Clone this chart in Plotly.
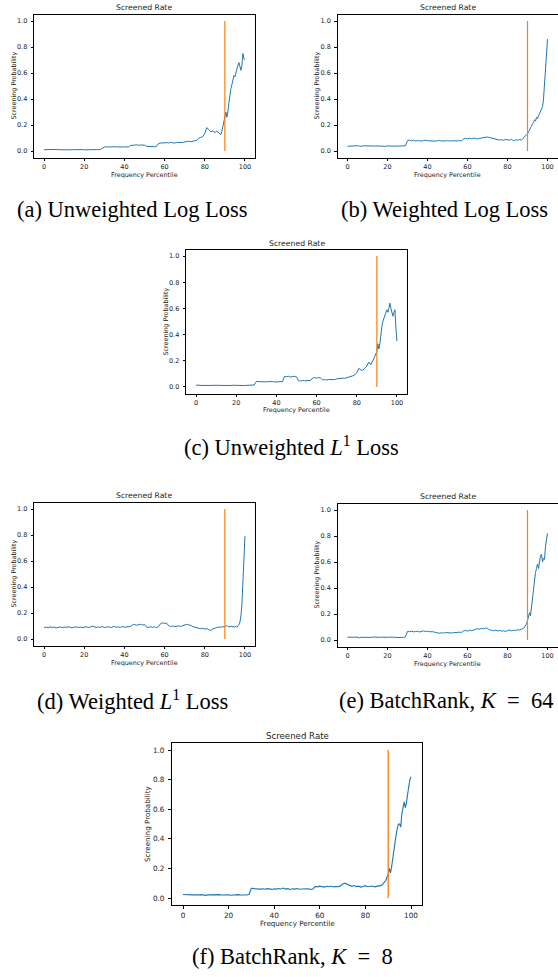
import plotly.graph_objects as go

# Frequency percentile grid: whole percentiles up to 87, then half steps to 100
pct = list(range(0, 88)) + [88 + 0.5 * i for i in range(25)]

# Screening probability per percentile, one list per training objective
unweighted_log = [
    0.010, 0.011, 0.009, 0.010, 0.011, 0.010, 0.012, 0.010, 0.009, 0.011,
    0.010, 0.011, 0.010, 0.009, 0.010, 0.011, 0.010, 0.012, 0.010, 0.011,
    0.009, 0.010, 0.011, 0.010, 0.009, 0.010, 0.011, 0.010, 0.011,
    0.020,
    0.030, 0.032, 0.029, 0.031, 0.033, 0.030, 0.032, 0.031, 0.029, 0.031, 0.032, 0.030, 0.031,
    0.042, 0.046, 0.045, 0.048, 0.044, 0.046, 0.043, 0.045,
    0.036, 0.034, 0.037, 0.035, 0.033, 0.036,
    0.058, 0.061, 0.063, 0.060, 0.064, 0.062, 0.066, 0.063, 0.061, 0.065, 0.064, 0.067, 0.066,
    0.070, 0.072, 0.075, 0.071, 0.077, 0.079, 0.082,
    0.098, 0.105, 0.110,
    0.135, 0.180, 0.165, 0.148, 0.155, 0.142, 0.152, 0.135,
    0.125, 0.150, 0.190, 0.210, 0.240, 0.300, 0.260, 0.300, 0.370, 0.440,
    0.480, 0.510, 0.550, 0.580, 0.570, 0.610, 0.630, 0.660, 0.680, 0.640,
    0.620, 0.660, 0.750, 0.710, 0.700,
]

weighted_log = [
    0.036, 0.038, 0.040, 0.037, 0.039, 0.041, 0.038, 0.036, 0.040, 0.039,
    0.037, 0.038, 0.040, 0.036, 0.038, 0.039, 0.037, 0.040, 0.038, 0.036,
    0.039, 0.041, 0.038, 0.037, 0.040, 0.039, 0.038, 0.037, 0.039,
    0.040,
    0.080, 0.084, 0.079, 0.082, 0.077, 0.081, 0.078, 0.076, 0.080, 0.083,
    0.079, 0.077, 0.080, 0.078, 0.076, 0.079, 0.081, 0.077, 0.075, 0.078,
    0.080, 0.076, 0.079, 0.077, 0.075, 0.078, 0.080, 0.077,
    0.094, 0.097, 0.093, 0.098, 0.095, 0.099, 0.096, 0.093, 0.097, 0.100,
    0.105, 0.110, 0.108, 0.104, 0.100,
    0.095, 0.092, 0.088, 0.084, 0.087, 0.082, 0.089, 0.085, 0.083, 0.090,
    0.078, 0.086, 0.082, 0.088, 0.084,
    0.100, 0.115, 0.120, 0.125, 0.130, 0.150, 0.160, 0.180, 0.190, 0.210,
    0.220, 0.240, 0.230, 0.260, 0.250, 0.270, 0.290, 0.310, 0.330, 0.340,
    0.400, 0.520, 0.680, 0.800, 0.860,
]

unweighted_l1 = [
    0.014, 0.012, 0.010, 0.013, 0.011, 0.012, 0.014, 0.011, 0.012, 0.010,
    0.013, 0.012, 0.011, 0.013, 0.012, 0.010, 0.012, 0.011, 0.013, 0.012,
    0.011, 0.012, 0.010, 0.013, 0.011, 0.012, 0.013, 0.011, 0.012,
    0.015,
    0.042, 0.040, 0.038, 0.041, 0.039, 0.040, 0.042, 0.039, 0.041, 0.038, 0.040, 0.042, 0.039, 0.041,
    0.080, 0.078, 0.082, 0.076, 0.079, 0.081, 0.077,
    0.048, 0.045, 0.050, 0.047, 0.049, 0.046, 0.050,
    0.068, 0.071, 0.067, 0.072, 0.069,
    0.054, 0.056, 0.053, 0.057, 0.055, 0.058, 0.056,
    0.062, 0.065, 0.063, 0.067, 0.066, 0.070,
    0.076, 0.080, 0.085, 0.092,
    0.110, 0.142, 0.130, 0.128, 0.148, 0.160, 0.190, 0.170,
    0.200, 0.215, 0.230, 0.245, 0.270, 0.330, 0.290, 0.330, 0.420, 0.460,
    0.500, 0.530, 0.560, 0.570, 0.590, 0.570, 0.600, 0.640, 0.600, 0.560,
    0.540, 0.570, 0.590, 0.450, 0.350,
]

weighted_l1 = [
    0.088, 0.092, 0.086, 0.094, 0.089, 0.091, 0.085, 0.090, 0.093, 0.087,
    0.092, 0.089, 0.094, 0.090, 0.086, 0.091, 0.093, 0.088, 0.092, 0.087,
    0.090, 0.094, 0.089, 0.091, 0.100, 0.092, 0.088, 0.093, 0.090, 0.095,
    0.089, 0.091, 0.094, 0.088, 0.092, 0.096, 0.090, 0.093, 0.089, 0.095,
    0.091, 0.094, 0.098, 0.096,
    0.108, 0.112, 0.106, 0.110, 0.113, 0.107, 0.111,
    0.092, 0.089, 0.094, 0.090, 0.093, 0.088, 0.095,
    0.118, 0.124, 0.120, 0.122,
    0.102, 0.096, 0.100, 0.094, 0.098, 0.101, 0.097, 0.103,
    0.110, 0.113, 0.108, 0.105,
    0.096, 0.090, 0.085, 0.082, 0.079, 0.083, 0.076, 0.080, 0.072, 0.065,
    0.078, 0.085, 0.088, 0.092,
    0.090, 0.095, 0.092, 0.098, 0.094, 0.100, 0.105, 0.096, 0.092, 0.098,
    0.094, 0.100, 0.090, 0.096, 0.092, 0.098, 0.090, 0.100, 0.110, 0.130,
    0.180, 0.270, 0.420, 0.600, 0.790,
]

batchrank_k64 = [
    0.022, 0.020, 0.019, 0.021, 0.023, 0.020, 0.018, 0.021, 0.020, 0.022,
    0.019, 0.021, 0.020, 0.023, 0.021, 0.019, 0.020, 0.022, 0.021, 0.018,
    0.020, 0.022, 0.019, 0.021, 0.020, 0.018, 0.020, 0.019, 0.020,
    0.025,
    0.066, 0.064, 0.068, 0.063, 0.065, 0.067, 0.062, 0.066, 0.070, 0.065, 0.068, 0.064, 0.066, 0.063,
    0.058, 0.055, 0.052, 0.056, 0.053, 0.057, 0.055, 0.058, 0.054, 0.056, 0.059, 0.057, 0.060, 0.058,
    0.070, 0.073, 0.068, 0.075, 0.072, 0.076,
    0.084, 0.088, 0.083, 0.090, 0.086, 0.092, 0.089,
    0.078, 0.075, 0.072, 0.076, 0.070, 0.073, 0.068, 0.071, 0.066, 0.072,
    0.078, 0.070, 0.075, 0.073, 0.079, 0.076, 0.082,
    0.090, 0.100, 0.110, 0.125, 0.150, 0.180, 0.210, 0.185, 0.260, 0.320,
    0.400, 0.460, 0.520, 0.550, 0.585, 0.550, 0.610, 0.650, 0.660, 0.600,
    0.630, 0.620, 0.720, 0.780, 0.820,
]

batchrank_k8 = [
    0.024, 0.022, 0.020, 0.023, 0.021, 0.022, 0.019, 0.021, 0.023, 0.020,
    0.018, 0.021, 0.022, 0.020, 0.019, 0.021, 0.023, 0.020, 0.022, 0.024,
    0.021, 0.019, 0.022, 0.020, 0.023, 0.021, 0.019, 0.022, 0.020,
    0.025,
    0.066, 0.063, 0.061, 0.064, 0.060, 0.062, 0.059, 0.063, 0.061, 0.058,
    0.062, 0.060, 0.064, 0.061, 0.067, 0.060, 0.063, 0.058, 0.062, 0.060,
    0.064, 0.059, 0.061, 0.063, 0.060, 0.062, 0.058, 0.061,
    0.078, 0.075, 0.080, 0.077, 0.074, 0.079, 0.076, 0.081, 0.075, 0.078, 0.076, 0.080,
    0.095, 0.100, 0.092,
    0.082, 0.079, 0.084, 0.077, 0.080, 0.074, 0.078, 0.083, 0.076, 0.079,
    0.081, 0.075, 0.078, 0.082, 0.085,
    0.100, 0.110, 0.120, 0.140, 0.160, 0.200, 0.170, 0.210, 0.270, 0.330,
    0.380, 0.430, 0.470, 0.500, 0.500, 0.480, 0.570, 0.620, 0.650, 0.610,
    0.640, 0.700, 0.760, 0.800, 0.820,
]

# Frequency-percentile cutoff drawn as a vertical marker
threshold_x = [90, 90]
threshold_y = [0.0, 1.0]

x_ticks = [0, 20, 40, 60, 80, 100]
y_ticks = [0.0, 0.2, 0.4, 0.6, 0.8, 1.0]

panel_title = "Screened Rate"
x_label = "Frequency Percentile"
y_label = "Screening Probability"

NB = "\u00a0"
captions = [
    "(a) Unweighted Log Loss",
    "(b) Weighted Log Loss",
    "(c) Unweighted <i>L</i><sup>1</sup> Loss",
    "(d) Weighted <i>L</i><sup>1</sup> Loss",
    "(e) BatchRank, <i>K</i>" + NB + " =" + NB + " 64",
    "(f) BatchRank, <i>K</i>" + NB + " =" + NB + " 8",
]
series = [unweighted_log, weighted_log, unweighted_l1,
          weighted_l1, batchrank_k64, batchrank_k8]

# ---- page geometry (pixels) ----
W, H = 558, 977
# plot boxes: left, right, top, bottom
boxes = [
    (34.0, 255.0, 14.5, 157.5),
    (337.5, 557.5, 14.5, 157.5),
    (186.0, 407.0, 249.5, 393.5),
    (34.0, 255.0, 502.5, 645.5),
    (337.5, 557.5, 503.5, 646.5),
    (171.6, 422.4, 742.6, 905.4),
]
title_y = [7.5, 7.5, 243.0, 496.0, 497.0, 735.5]
xlabel_y = [174.5, 174.5, 409.5, 663.0, 664.0, 923.5]
ylabel_x = [13.5, 316.5, 165.0, 13.5, 316.5, 147.0]
caption_pos = [(132.5, 209.0), (444.0, 209.0), (291.5, 446.0),
               (132.5, 700.0), (446.0, 700.0), (292.0, 956.0)]
font_scale = [1.0, 1.0, 1.0, 1.0, 1.0, 1.12]

BLUE = "#1f77b4"
ORANGE = "#ff7f0e"
INK = "#222222"


def px(x):
    return x / W


def py(y):
    return 1 - y / H


fig = go.Figure()
annotations = []
layout = dict(
    width=W, height=H,
    margin=dict(l=0, r=0, t=0, b=0),
    paper_bgcolor="white", plot_bgcolor="white",
    showlegend=False,
)

for i, (vals, box) in enumerate(zip(series, boxes)):
    n = "" if i == 0 else str(i + 1)
    xa, ya = "x" + n, "y" + n
    s = font_scale[i]
    left, right, top, bottom = box

    fig.add_trace(go.Scatter(
        x=pct, y=vals, mode="lines", xaxis=xa, yaxis=ya,
        line=dict(color=BLUE, width=1.0 * s), hoverinfo="skip"))
    fig.add_trace(go.Scatter(
        x=threshold_x, y=threshold_y, mode="lines", xaxis=xa, yaxis=ya,
        line=dict(color=ORANGE, width=1.2 * s), hoverinfo="skip"))

    common = dict(
        showgrid=False, zeroline=False,
        showline=True, linecolor="black", linewidth=0.8, mirror=True,
        ticks="outside", ticklen=2.5 * s, tickwidth=0.6, tickcolor="black",
        tickfont=dict(family="DejaVu Sans", size=6.5 * s, color=INK),
        fixedrange=True,
    )
    layout["xaxis" + n] = dict(
        common, domain=[px(left), px(right)], range=[-5, 105],
        tickvals=x_ticks, ticktext=[str(t) for t in x_ticks],
        anchor=ya, ticklabelstandoff=0)
    layout["yaxis" + n] = dict(
        common, domain=[py(bottom), py(top)], range=[-0.05, 1.05],
        tickvals=y_ticks, ticktext=["%.1f" % t for t in y_ticks],
        anchor=xa, ticklabelstandoff=2)

    cx = (left + right) / 2
    annotations.append(dict(
        text=panel_title, x=px(cx), y=py(title_y[i]), xref="paper", yref="paper",
        xanchor="center", yanchor="middle", showarrow=False,
        font=dict(family="DejaVu Sans", size=7.7 * s, color=INK)))
    annotations.append(dict(
        text=x_label, x=px(cx), y=py(xlabel_y[i]), xref="paper", yref="paper",
        xanchor="center", yanchor="middle", showarrow=False,
        font=dict(family="DejaVu Sans", size=6.4 * s, color=INK)))
    annotations.append(dict(
        text=y_label, x=px(ylabel_x[i]), y=py((top + bottom) / 2),
        xref="paper", yref="paper", textangle=-90,
        xanchor="center", yanchor="middle", showarrow=False,
        font=dict(family="DejaVu Sans", size=6.4 * s, color=INK)))
    cxp, cyp = caption_pos[i]
    annotations.append(dict(
        text=captions[i], x=px(cxp), y=py(cyp), xref="paper", yref="paper",
        xanchor="center", yanchor="middle", showarrow=False,
        font=dict(family="Liberation Serif", size=22.5, color="black")))

layout["annotations"] = annotations
fig.update_layout(**layout)
fig.write_html("out.html", config={"displayModeBar": False})
